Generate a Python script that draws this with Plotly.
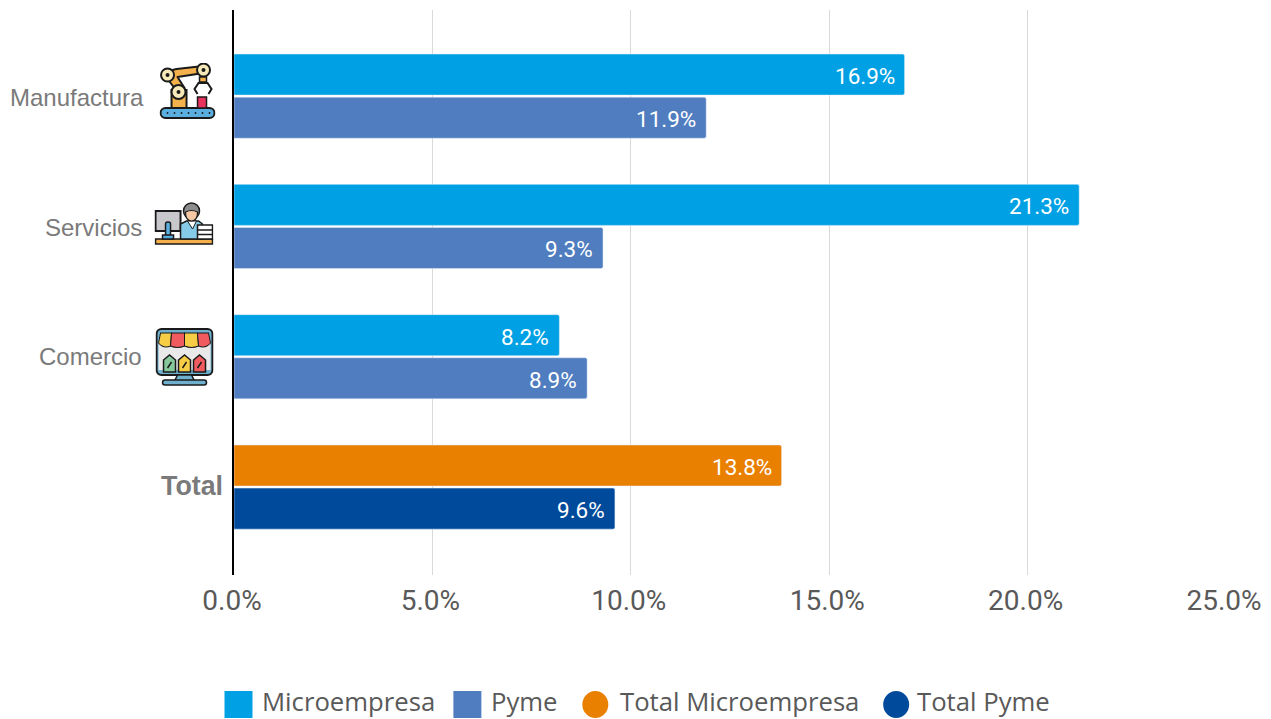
import base64
import plotly.graph_objects as go

categories = ["Manufactura", "Servicios", "Comercio"]
micro_values = [16.9, 21.3, 8.2]
pyme_values = [11.9, 9.3, 8.9]
total_category = ["Total"]
total_micro_values = [13.8]
total_pyme_values = [9.6]
x_ticks = [0, 5, 10, 15, 20, 25]
x_tick_labels = ["0.0%", "5.0%", "10.0%", "15.0%", "20.0%", "25.0%"]
legend_names = ["Microempresa", "Pyme", "Total Microempresa", "Total Pyme"]

W, H = 1271, 719
L, R, T, B = 233.5, 1226, 10, 575
PW, PH = R - L, B - T


def px(x):
    return (x - L) / PW


def py(y):
    return (B - y) / PH


K = "#1a1a1a"
robot = f'''<svg xmlns="http://www.w3.org/2000/svg" viewBox="0 0 56 56">
<rect x="1" y="45" width="54" height="10" rx="5" fill="#5aaee0" stroke="{K}" stroke-width="2"/>
<g fill="{K}"><circle cx="8" cy="50" r=".9"/><circle cx="15" cy="50" r=".9"/><circle cx="22" cy="50" r=".9"/><circle cx="29" cy="50" r=".9"/><circle cx="36" cy="50" r=".9"/><circle cx="43" cy="50" r=".9"/><circle cx="50" cy="50" r=".9"/></g>
<rect x="12" y="27" width="15" height="18" fill="#f4b04a" stroke="{K}" stroke-width="2"/>
<path d="M9 8 L17 6 L44 3 L44 10 L18 14 L25 25 L18 29 L8 16Z" fill="#f4b04a" stroke="{K}" stroke-width="2" stroke-linejoin="round"/>
<g fill="#f7e9b8" stroke="{K}" stroke-width="2"><circle cx="19" cy="29" r="7"/><circle cx="8" cy="12" r="6.5"/><circle cx="44" cy="7" r="6.5"/></g>
<g fill="{K}"><circle cx="19" cy="29" r="2"/><circle cx="8" cy="12" r="2"/><circle cx="44" cy="7" r="2"/></g>
<rect x="40" y="14" width="7" height="5" fill="#f4b04a" stroke="{K}" stroke-width="1.5"/>
<path d="M38 31 L35 26 L39 20 H48 L52 26 L49 31" fill="none" stroke="{K}" stroke-width="2"/>
<rect x="38" y="34" width="9" height="11" fill="#e8335f" stroke="{K}" stroke-width="1.5"/>
</svg>'''

office = f'''<svg xmlns="http://www.w3.org/2000/svg" viewBox="0 0 59 43">
<rect x="1" y="37" width="57" height="5" fill="#f4b04a" stroke="{K}" stroke-width="1.5"/>
<rect x="1" y="9" width="25" height="20" fill="#c8c8cc" stroke="{K}" stroke-width="2"/>
<rect x="11" y="20" width="5" height="14" rx="2" fill="#5aaee0" stroke="{K}" stroke-width="1.5"/>
<rect x="8" y="33" width="11" height="4" fill="#5aaee0" stroke="{K}" stroke-width="1.5"/>
<path d="M26 37 V22 L32 19 H44 L48 22 V37Z" fill="#85cbe8" stroke="{K}" stroke-width="1.5"/>
<path d="M33 19 L38 27 L42 19Z" fill="#fff" stroke="{K}" stroke-width="1"/>
<circle cx="37" cy="9" r="8" fill="#8d8d8d" stroke="{K}" stroke-width="1.5"/>
<path d="M31 10 Q37 7 43 10 Q43 19 37 19 Q31 19 31 10Z" fill="#f6c9a4" stroke="{K}" stroke-width="1.2"/>
<rect x="43" y="23" width="15" height="14" fill="#fff" stroke="{K}" stroke-width="1.5"/>
<path d="M43 28 H58 M43 32.500 H58" stroke="{K}" stroke-width="1.5"/>
</svg>'''

shop = f'''<svg xmlns="http://www.w3.org/2000/svg" viewBox="0 0 58 58">
<rect x="1" y="1" width="56" height="46" rx="5" fill="#6fb0cf" stroke="{K}" stroke-width="2"/>
<rect x="3" y="14" width="52" height="28" fill="#e9e9e9"/>
<path d="M22 47 H36 L39 53 H19Z" fill="#6fb0cf" stroke="{K}" stroke-width="1.5"/>
<rect x="7" y="52" width="44" height="5" rx="2.500" fill="#6fb0cf" stroke="{K}" stroke-width="1.5"/>
<path d="M3 15 L5 5 H16 L15 18 Q8 21 3 15Z" fill="#f7cd45" stroke="{K}" stroke-width="1"/>
<path d="M15 18 L16 5 H29 V18 Q22 21 15 18Z" fill="#ef5b5f" stroke="{K}" stroke-width="1"/>
<path d="M29 18 V5 H42 L43 18 Q36 21 29 18Z" fill="#f7cd45" stroke="{K}" stroke-width="1"/>
<path d="M43 18 L42 5 H53 L55 15 Q50 21 43 18Z" fill="#ef5b5f" stroke="{K}" stroke-width="1"/>
<path d="M8 32 L14 27 L20 32 V44 H8Z" fill="#86c79c" stroke="{K}" stroke-width="1.500"/>
<path d="M23 32 L29 27 L35 32 V44 H23Z" fill="#f7cd45" stroke="{K}" stroke-width="1.500"/>
<path d="M38 32 L44 27 L50 32 V44 H38Z" fill="#ef5b5f" stroke="{K}" stroke-width="1.500"/>
<path d="M12 40 L16 34 M27 40 L31 34 M42 40 L46 34" stroke="{K}" stroke-width="1.500"/>
</svg>'''


def uri(svg):
    return "data:image/svg+xml;base64," + base64.b64encode(svg.encode()).decode()


BAR_W = 0.315
fig = go.Figure()
common = dict(orientation="h", width=BAR_W, marker_cornerradius=2,
              showlegend=False, hoverinfo="x+y")
fig.add_bar(name=legend_names[0], y=categories, x=micro_values, offset=0.008,
            marker_color="#00A1E4", **common)
fig.add_bar(name=legend_names[1], y=categories, x=pyme_values, offset=-0.323,
            marker_color="#4F7DBF", **common)
fig.add_bar(name=legend_names[2], y=total_category, x=total_micro_values, offset=0.008,
            marker_color="#E98000", **common)
fig.add_bar(name=legend_names[3], y=total_category, x=total_pyme_values, offset=-0.323,
            marker_color="#004A9B", **common)

annotations = []
# value labels, anchored to each bar's value on the data axes
for cats, vals, shift in [(categories, micro_values, 20), (categories, pyme_values, -23),
                          (total_category, total_micro_values, 20),
                          (total_category, total_pyme_values, -23)]:
    for c, v in zip(cats, vals):
        annotations.append(dict(text=f"{v:.1f}%", xref="x", yref="y", x=v, y=c,
                                xanchor="right", yanchor="middle", showarrow=False,
                                xshift=-8, yshift=shift,
                                font=dict(family="Roboto", size=22.5, color="white")))

label_font = dict(family="Liberation Sans", size=24, color="#7a7a7a")
for name, right, ys in zip(categories, [145, 143, 143], [-1, -1, 0]):
    annotations.append(dict(text=name, xref="paper", yref="y", x=px(right), y=name,
                            xanchor="right", yanchor="middle", showarrow=False,
                            yshift=ys, font=label_font))
annotations.append(dict(text="<b>Total</b>", xref="paper", yref="y", x=px(224), y="Total",
                        xanchor="right", yanchor="middle", showarrow=False, yshift=1,
                        font=dict(family="Liberation Sans", size=26.8, color="#7a7a7a")))

shapes = []
legend_text_x = [260, 489, 618, 915]
key_specs = [("rect", 224, 252, "#00A1E4"), ("rect", 453, 481, "#4F7DBF"),
             ("circle", 582, 608, "#E98000"), ("circle", 883, 909, "#004A9B")]
for name, tx, (kind, x0, x1, color) in zip(legend_names, legend_text_x, key_specs):
    shapes.append(dict(type=kind, xref="paper", yref="paper", x0=px(x0), x1=px(x1),
                       y0=py(691), y1=py(718), fillcolor=color, line_width=0))
    annotations.append(dict(text=name, xref="paper", yref="paper", x=px(tx), y=py(701.5),
                            xanchor="left", yanchor="middle", showarrow=False,
                            font=dict(family="Open Sans", size=25.7, color="#595959")))

images = []
for svg, x0, x1, y0, y1 in [(robot, 159, 215, 63, 119), (office, 154, 213, 202, 245),
                            (shop, 155, 213, 328, 386)]:
    images.append(dict(source=uri(svg), xref="paper", yref="paper", x=px(x0), y=py(y0),
                       sizex=(x1 - x0) / PW, sizey=(y1 - y0) / PH, xanchor="left",
                       yanchor="top", sizing="stretch", layer="above"))

fig.update_layout(
    width=W, height=H, margin=dict(l=L, r=W - R, t=T, b=H - B, pad=0, autoexpand=False),
    paper_bgcolor="white", plot_bgcolor="white", barmode="overlay",
    annotations=annotations, shapes=shapes, images=images,
    xaxis=dict(range=[0, 25], tickvals=x_ticks, ticktext=x_tick_labels,
               showgrid=True, gridcolor="#D9D9D9", gridwidth=1, zeroline=False,
               showline=False, ticks="", ticklabelstandoff=6, ticklabelshift=-2,
               tickfont=dict(family="Roboto", size=28, color="#595959")),
    yaxis=dict(type="category",
               categoryorder="array", categoryarray=["Total"] + categories[::-1],
               range=[-0.675, 3.661], showticklabels=False, showgrid=False,
               zeroline=False, showline=True, linecolor="black", linewidth=2, ticks=""),
)
fig.write_html("out.html", config={"displayModeBar": False},
               post_script="document.body.style.margin='0';")
